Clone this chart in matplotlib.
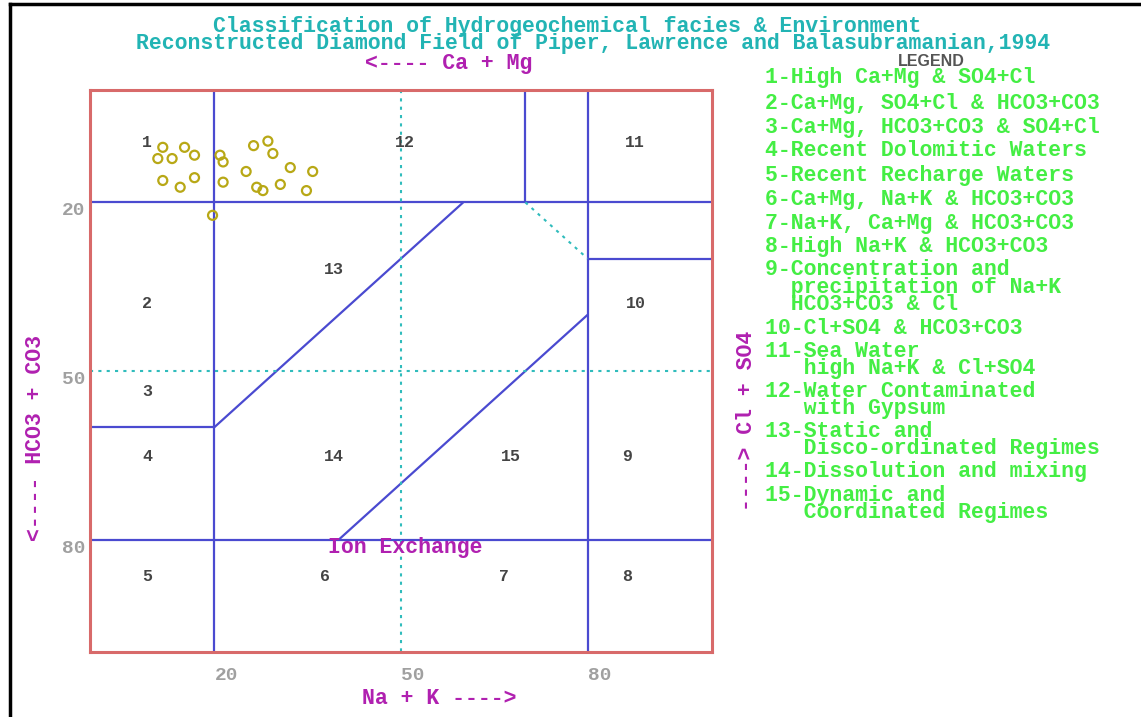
import matplotlib
matplotlib.use("Agg")
import matplotlib.pyplot as plt
from matplotlib.lines import Line2D

# ---------------- data ----------------
na_k = [11.7, 15.2, 10.9, 13.2, 16.8, 11.7, 14.5, 16.8, 20.9, 21.4, 21.4, 19.7,
        26.3, 28.6, 29.4, 25.1, 32.2, 35.8, 26.8, 27.8, 30.6, 34.8]
hco3_co3 = [10.2, 10.2, 12.2, 12.2, 11.6, 16.1, 17.3, 15.6, 11.6, 12.8, 16.4, 22.3,
            9.9, 9.1, 11.3, 14.5, 13.8, 14.5, 17.3, 17.9, 16.8, 17.9]

region_ids = ["1", "2", "3", "4", "5", "6", "7", "8", "9", "10", "11", "12", "13", "14", "15"]
region_x = [9.2, 9.2, 9.2, 9.2, 9.2, 37.8, 66.5, 86.4, 86.4, 87.7, 87.6, 50.6, 39.2, 39.2, 67.6]
region_y = [9.3, 38.0, 53.6, 65.2, 86.6, 86.6, 86.6, 86.6, 65.2, 38.0, 9.3, 9.3, 32.0, 65.2, 65.2]

tick_values = [20, 50, 80]
tick_labels = ["20", "50", "80"]

legend_items = [
    ["1-High Ca+Mg & SO4+Cl"],
    ["2-Ca+Mg, SO4+Cl & HCO3+CO3"],
    ["3-Ca+Mg, HCO3+CO3 & SO4+Cl"],
    ["4-Recent Dolomitic Waters"],
    ["5-Recent Recharge Waters"],
    ["6-Ca+Mg, Na+K & HCO3+CO3"],
    ["7-Na+K, Ca+Mg & HCO3+CO3"],
    ["8-High Na+K & HCO3+CO3"],
    ["9-Concentration and", "  precipitation of Na+K", "  HCO3+CO3 & Cl"],
    ["10-Cl+SO4 & HCO3+CO3"],
    ["11-Sea Water", "   high Na+K & Cl+SO4"],
    ["12-Water Contaminated", "   with Gypsum"],
    ["13-Static and", "   Disco-ordinated Regimes"],
    ["14-Dissolution and mixing"],
    ["15-Dynamic and", "   Coordinated Regimes"],
]
legend_first_y_px = [78, 103, 127, 151, 175, 199, 223, 247, 271, 328, 352, 392, 432, 472, 496]

# boundary segments (x0, y0, x1, y1) in diagram units
solid_segments = [
    (0, 20, 100, 20), (0, 80, 100, 80), (20, 0, 20, 100), (80, 0, 80, 100),
    (70, 0, 70, 20), (80, 30, 100, 30), (0, 60, 20, 60),
    (20, 60, 60, 20), (40, 80, 80, 40),
]
dotted_segments = [(50, 0, 50, 100), (0, 50, 100, 50), (70, 20, 80, 30)]

# ---------------- figure ----------------
W, H = 1141, 717
fig = plt.figure(figsize=(W / 100, H / 100), dpi=100)
fig.patch.set_facecolor("white")

def fx(px):
    return px / W

def fy(py):
    return 1 - py / H

ax = fig.add_axes([fx(90), fy(652), (712 - 90) / W, (652 - 90) / H])
ax.set_xlim(0, 100)
ax.set_ylim(100, 0)
for sp in ax.spines.values():
    sp.set_color("#d86a6a")
    sp.set_linewidth(2.2)

MONO = "Liberation Mono"
FS = 15.5
blue = "#4a4ad0"
cyan = "#30bcbc"
magenta = "#b020b0"
green = "#44ee44"

renderer = fig.canvas.get_renderer()

def linespacing_for(px_step, size):
    """Measure the real line step at linespacing=1 and scale to px_step."""
    kw = dict(fontsize=size, family=MONO, fontweight="bold")
    t1 = fig.text(0.5, 0.5, "Ag", linespacing=1.0, **kw)
    t2 = fig.text(0.5, 0.5, "Ag\nAg", linespacing=1.0, **kw)
    h1 = t1.get_window_extent(renderer).height
    h2 = t2.get_window_extent(renderer).height
    t1.remove()
    t2.remove()
    return px_step / (h2 - h1)

for x0, y0, x1, y1 in solid_segments:
    ax.plot([x0, x1], [y0, y1], color=blue, lw=1.6, solid_capstyle="butt")
for x0, y0, x1, y1 in dotted_segments:
    ax.plot([x0, x1], [y0, y1], color=cyan, lw=1.5, ls=(0, (1.5, 2.5)))

ax.scatter(na_k, hco3_co3, s=42, facecolors="none", edgecolors="#b8a816",
           linewidths=1.6, zorder=5)

for rid, rx, ry in zip(region_ids, region_x, region_y):
    ax.text(rx, ry, rid, ha="center", va="center", fontsize=12, family=MONO,
            fontweight="bold", color="#444444")

ax.text(50.7, 81.4, "Ion Exchange", ha="center", va="center", fontsize=FS,
        family=MONO, fontweight="bold", color=magenta)

ax.set_xticks(tick_values)
ax.set_xticklabels(tick_labels)
ax.set_yticks(tick_values)
ax.set_yticklabels(tick_labels)
ax.tick_params(length=0, labelsize=14, labelcolor="#a0a0a0")
ax.tick_params(axis="y", pad=3)
ax.tick_params(axis="x", pad=11)
for lab in ax.get_xticklabels():
    lab.set_family(MONO)
    lab.set_fontweight("bold")
    lab.set_horizontalalignment("left")
for lab in ax.get_yticklabels():
    lab.set_family(MONO)
    lab.set_fontweight("bold")
    lab.set_verticalalignment("top")

ls16 = linespacing_for(16, FS)

# titles (two lines, 16 px apart)
title_color = "#22b4b4"
title1 = "Classification of Hydrogeochemical facies & Environment"
title2 = "Reconstructed Diamond Field of Piper, Lawrence and Balasubramanian,1994"
fig.text(fx(593), fy(35), title1 + "    " + "\n" + title2,
         ha="center", va="center", ma="center", fontsize=FS, family=MONO,
         fontweight="bold", color=title_color, linespacing=ls16)

# axis labels
fig.text(fx(449), fy(63), "<---- Ca + Mg", ha="center", va="center", fontsize=FS,
         family=MONO, fontweight="bold", color=magenta)
fig.text(fx(439), fy(698), "Na + K ---->", ha="center", va="center", fontsize=FS,
         family=MONO, fontweight="bold", color=magenta)
fig.text(fx(36), fy(438), "<---- HCO3 + CO3", ha="center", va="center", fontsize=FS,
         rotation=90, family=MONO, fontweight="bold", color=magenta)
fig.text(fx(747), fy(421), "----> Cl + SO4", ha="center", va="center", fontsize=FS,
         rotation=90, family=MONO, fontweight="bold", color=magenta)

# legend
fig.text(fx(931), fy(62), "LEGEND", ha="center", va="center", fontsize=11.5,
         family="Liberation Sans", fontweight="bold", color="#555555")
for lines, y0 in zip(legend_items, legend_first_y_px):
    yc = y0 + 16 * (len(lines) - 1) / 2
    fig.text(fx(765), fy(yc), "\n".join(lines), ha="left", va="center", ma="left",
             fontsize=FS, family=MONO, fontweight="bold", color=green,
             linespacing=ls16)

# outer screenshot frame (top and left)
fig.add_artist(Line2D([fx(10), 1], [fy(4), fy(4)], color="black", lw=2.5,
                      transform=fig.transFigure))
fig.add_artist(Line2D([fx(10), fx(10)], [fy(4), 0], color="black", lw=2.5,
                      transform=fig.transFigure))

fig.savefig("out.png", dpi=100)
